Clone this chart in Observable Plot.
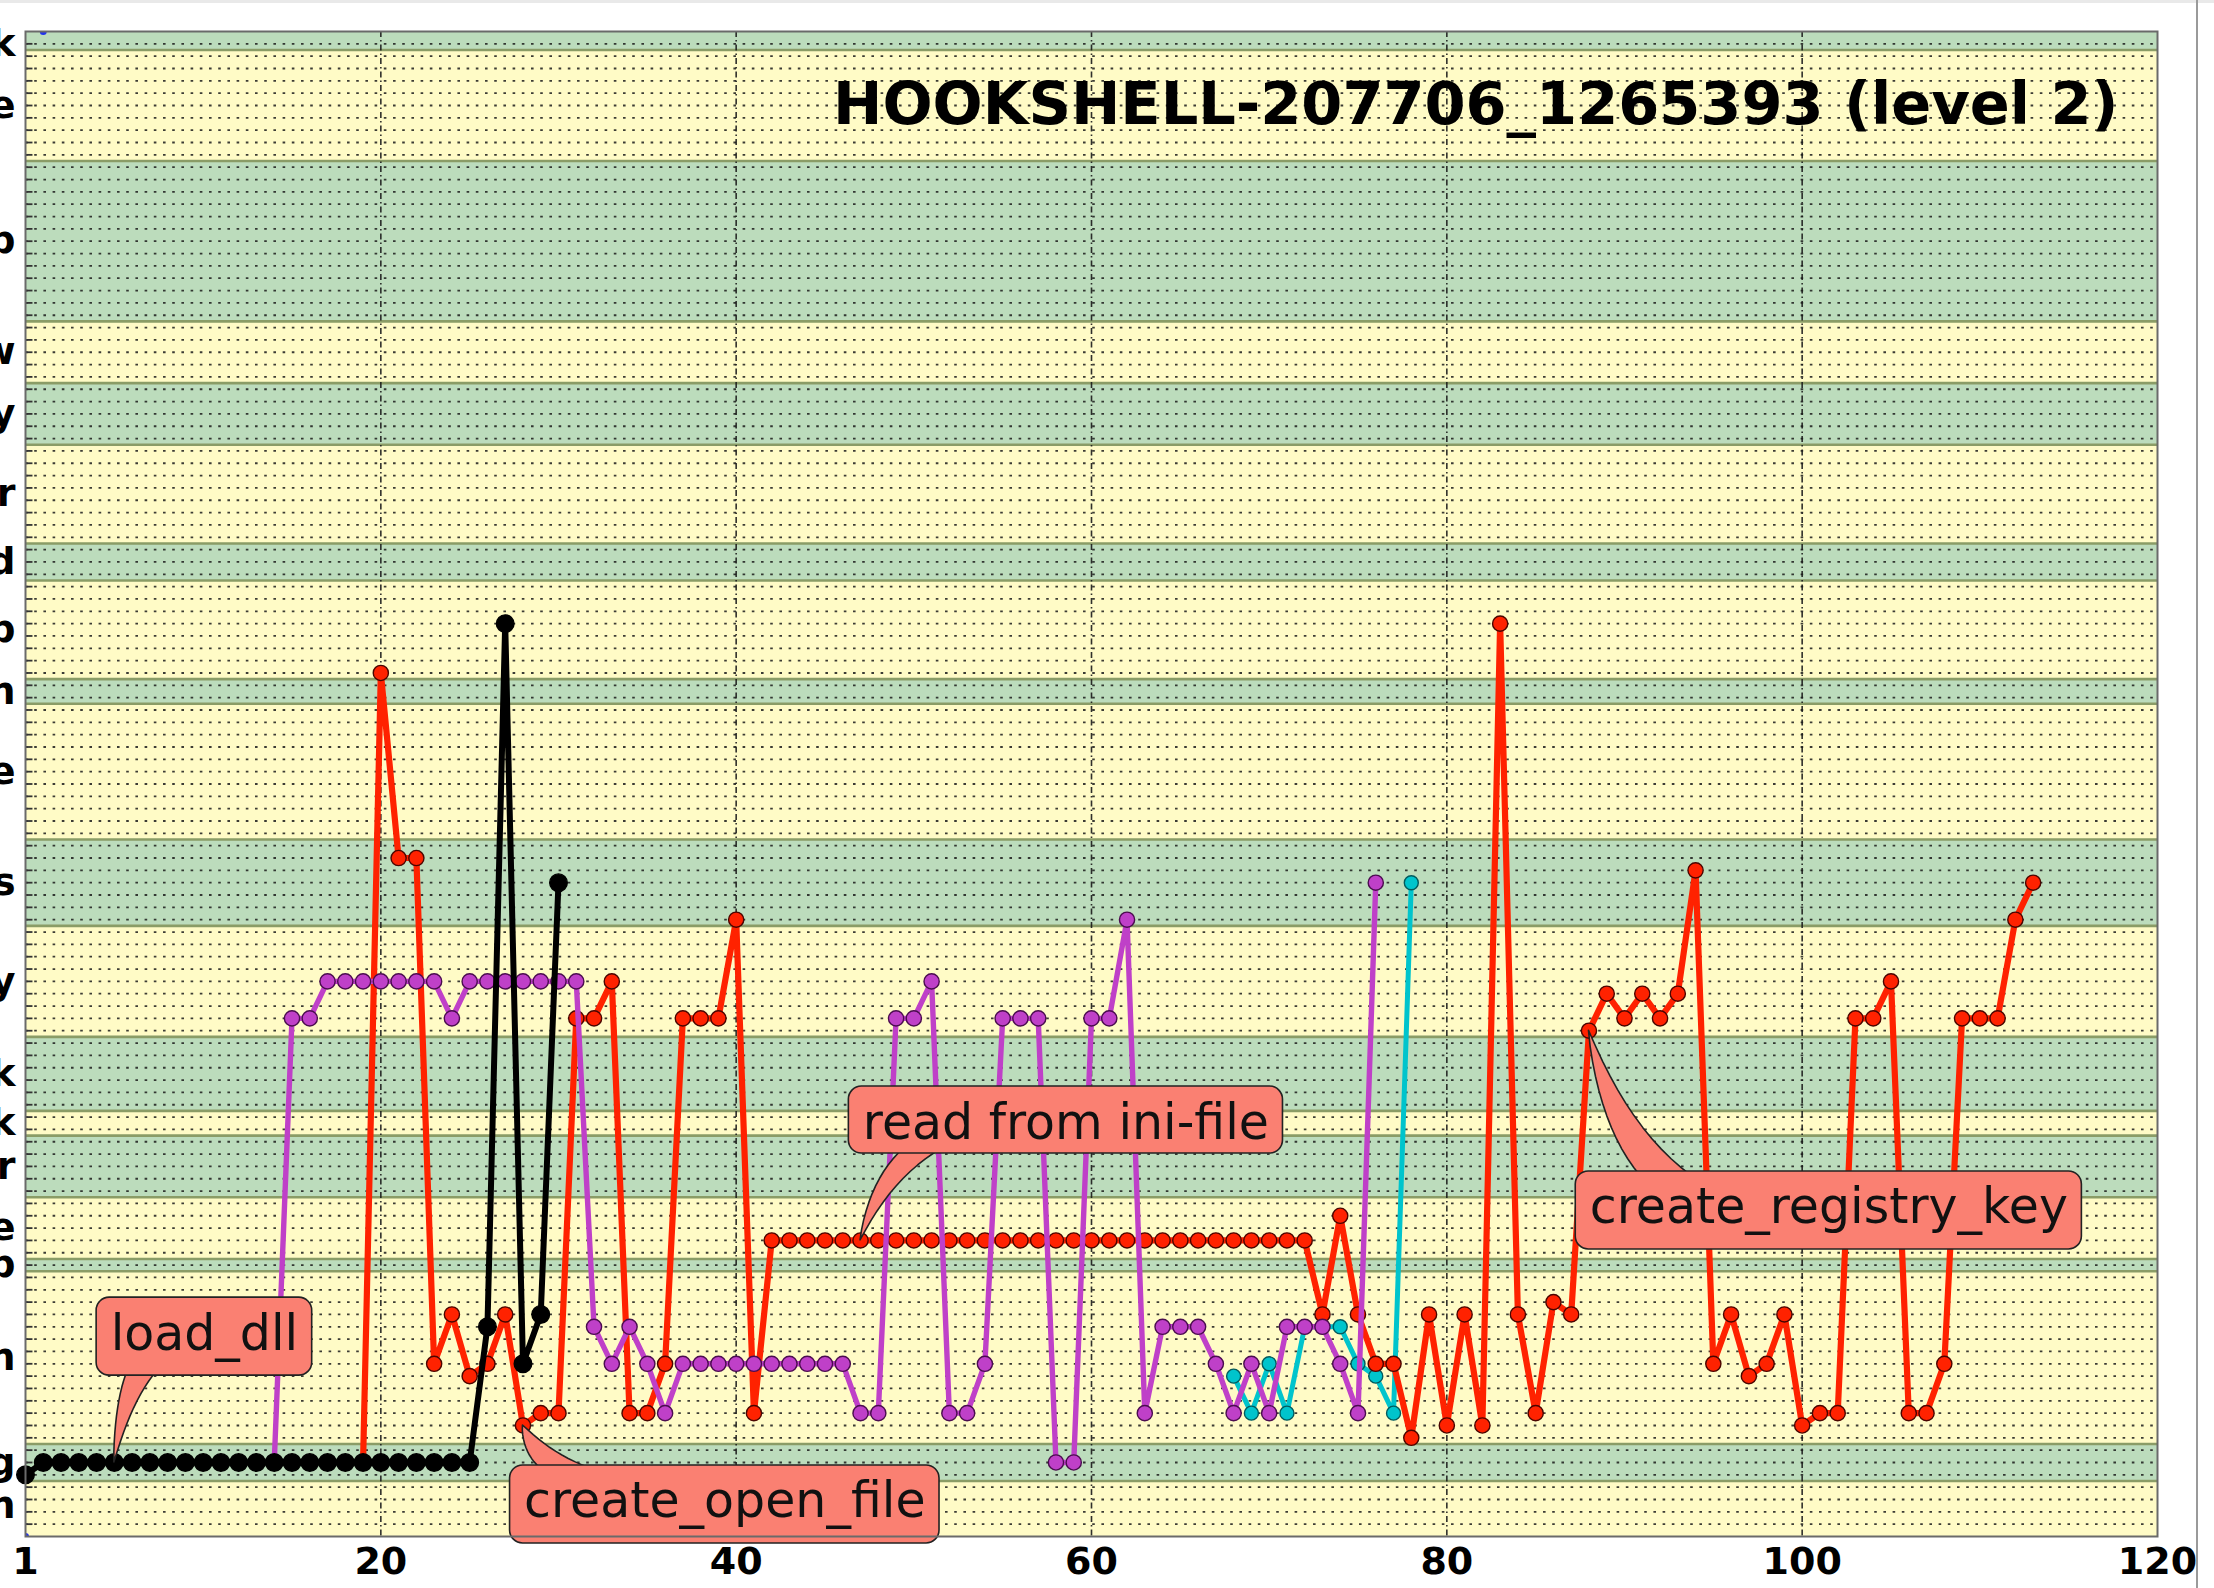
<!DOCTYPE html>
<html><head><meta charset="utf-8">
<script src="https://cdn.jsdelivr.net/npm/d3@7"></script>
<script src="https://cdn.jsdelivr.net/npm/@observablehq/plot@0.6"></script>
<style>
html,body{margin:0;padding:0;background:#fff;}
#wrap{position:relative;width:2214px;height:1588px;overflow:hidden;background:#fff;}
#topstrip{position:absolute;left:0;top:0;width:2214px;height:3px;background:#e9e9e9;}
#rightline{position:absolute;left:2196px;top:0;width:2px;height:1588px;background:#9a9a9a;}
</style></head><body><div id="wrap"><div id="topstrip"></div><div id="rightline"></div></div>
<script>
// ---------- data ----------
const xDomain = [0, 120];
const yDomain = [-1, 121];
const xTicks = [0, 20, 40, 60, 80, 100, 120];
const xTickLabels = ["1", "20", "40", "60", "80", "100", "120"];
const xGrid = [20, 40, 60, 80, 100];

// category bands, from the bottom (number of rows in each band)
const bandSizes  = [4, 3, 14, 1, 5, 5, 2, 6, 9, 7, 11, 2, 8, 3, 8, 5, 5, 13, 9, 1];
const bandLabels = ["n","g","n","p","e","r","k","k","y","s","e","n","p","d","r","y","w","p","e","k"];

const blackStart = 0;
const blackRows = [4, 5,5,5,5,5, 5,5,5,5,5, 5,5,5,5,5, 5,5,5,5,5, 5,5,5,5,5, 16,73,13,17,52];

const purpleStart = 14;
const purpleRows = [5, 41,41, 44,44,44,44,44,44,44, 41, 44,44,44,44,44,44,44,
  16,13,16,13,9, 13,13,13,13,13,13,13,13,13,13, 9,9, 41,41,44, 9,9,13, 41,41,41, 5,5,
  41,41,49, 9, 16,16,16, 13,9,13,9, 16,16,16, 13,9,52];

const cyanStart = 68;
const cyanRows = [12, 9, 13, 9, 16, 16, 16, 13, 12, 9, 52];

const redStart = 19;
const redRows = [5, 69, 54, 54, 13, 17, 12, 13, 17, 8, 9, 9, 41, 41, 44, 9, 9, 13, 41, 41, 41, 49, 9,
  23,23,23,23,23,23,23,23,23,23, 23,23,23,23,23,23,23,23,23,23, 23,23,23,23,23,23,23,23,23,23, 23,
  17, 25, 17, 13, 13, 7, 17, 8, 17, 8, 73, 17, 9, 18, 17, 40, 43, 41, 43, 41, 43, 53,
  13, 17, 12, 13, 17, 8, 9, 9, 41, 41, 44, 9, 9, 13, 41, 41, 41, 49, 52];

const blueX = [0, 1];
const blueRows = [-1, 121];

const title = "HOOKSHELL-207706_1265393 (level 2)";

const annotations = [
  {label: "load_dll",            px: 5,  py: 5,  tx: 10.07,  ty: 15.2,  base: [0.145, 0.283]},
  {label: "create_open_file",    px: 28, py: 8,  tx: 39.36,  ty: 1.6,   base: [0.077, 0.200]},
  {label: "read from ini-file",  px: 47, py: 23, tx: 58.56,  ty: 32.76, base: [0.127, 0.215]},
  {label: "create_registry_key", px: 88, py: 40, tx: 101.5,  ty: 25.43, base: [0.129, 0.230]}
];

// ---------- layout ----------
const W = 2214, H = 1588, mL = 25, mR = 57, mT = 31, mB = 52;
const yellow = "#fffbc6", green = "#bcdcbc", salmon = "#fa8072";

const toPts = (start, rows) => rows.map((r, i) => ({x: start + i, y: r}));
const black = toPts(blackStart, blackRows);
const purple = toPts(purpleStart, purpleRows);
const cyan = toPts(cyanStart, cyanRows);
const red = toPts(redStart, redRows);
const blue = blueX.map((x, i) => ({x, y: blueRows[i]}));

// bands
const bands = [];
let s = 0;
bandSizes.forEach((n, i) => {
  bands.push({
    y1: i === 0 ? yDomain[0] : s - 0.5,
    y2: i === bandSizes.length - 1 ? yDomain[1] : s + n - 0.5,
    center: s + (n - 1) / 2,
    label: bandLabels[i],
    fill: i % 2 === 0 ? yellow : green
  });
  s += n;
});
const rows = d3.range(0, s);
const boundaries = bands.slice(1).map(b => b.y1);
const centerLabel = new Map(bands.map(b => [b.center, b.label]));

// scales for annotation geometry
const xs = Plot.scale({x: {domain: xDomain, range: [mL, W - mR]}});
const ys = Plot.scale({y: {domain: yDomain, range: [H - mB, mT]}});
const ctx = document.createElement("canvas").getContext("2d");
const fs = 49, padX = 14, padY = 14;
ctx.font = `${fs}px "DejaVu Sans"`;

const annMarks = [];
annotations.forEach(a => {
  const m = ctx.measureText(a.label);
  const asc = m.actualBoundingBoxAscent, desc = m.actualBoundingBoxDescent;
  const bw = m.width + 2 * padX, bh = asc + desc + 2 * padY;
  const cx = xs.apply(a.tx), cy = ys.apply(a.ty);
  const box = {x1: xs.invert(cx - bw / 2), x2: xs.invert(cx + bw / 2),
               y1: ys.invert(cy + bh / 2), y2: ys.invert(cy - bh / 2)};
  const tipX = xs.apply(a.px), tipY = ys.apply(a.py);
  const edge = tipY < cy ? cy - bh / 2 + 5 : cy + bh / 2 - 5;
  const b1 = cx - bw / 2 + a.base[0] * bw, b2 = cx - bw / 2 + a.base[1] * bw;
  const bc = (b1 + b2) / 2, hw = (b2 - b1) / 2;
  // slightly curved wedge: quadratic centre line from the tip to the base centre
  const mx = (tipX + bc) / 2, my = (tipY + edge) / 2;
  const qx = mx + 0.35 * (tipX - mx), qy = my + 0.35 * (edge - my);
  const wedge = d3.range(0, 13).map(k => {
    const t = k / 12;
    const px = (1 - t) * (1 - t) * tipX + 2 * (1 - t) * t * qx + t * t * bc;
    const py = (1 - t) * (1 - t) * tipY + 2 * (1 - t) * t * qy + t * t * edge;
    const w = hw * Math.pow(t, 0.9);
    return {x1: xs.invert(px - w), y1: ys.invert(py), x2: xs.invert(px + w), y2: ys.invert(py)};
  });
  annMarks.push(
    Plot.area(wedge, {x1: "x1", y1: "y1", x2: "x2", y2: "y2", fill: salmon, stroke: "#222", strokeWidth: 1.6, curve: "linear"}),
    Plot.rect([box], {x1: "x1", x2: "x2", y1: "y1", y2: "y2", rx: 13, ry: 13, fill: salmon, stroke: "#222", strokeWidth: 1.6}),
    Plot.text([a], {x: "tx", y: "ty", text: "label", fontSize: fs, fontWeight: "normal", fill: "#111",
      textAnchor: "middle", dy: (asc - desc) / 2 - 0.32 * fs})
  );
});

function series(data, color, edge, width, r) {
  return [
    Plot.line(data, {x: "x", y: "y", stroke: color, strokeWidth: width, strokeLinejoin: "miter", strokeLinecap: "butt"}),
    Plot.dot(data, {x: "x", y: "y", r, fill: color, stroke: edge, strokeWidth: 1.4})
  ];
}

const chart = Plot.plot({
  width: W, height: H,
  marginLeft: mL, marginRight: mR, marginTop: mT, marginBottom: mB,
  style: {fontFamily: '"DejaVu Sans", sans-serif', fontSize: "38px", fontWeight: "bold", background: "white", maxWidth: "none", color: "black"},
  x: {domain: xDomain, ticks: xTicks, tickFormat: d => xTickLabels[xTicks.indexOf(d)], tickSize: 0, tickPadding: 11, label: null},
  y: {domain: yDomain, ticks: bands.map(b => b.center), tickFormat: d => centerLabel.get(d), tickSize: 0, tickPadding: 10, label: null},
  marks: [
    Plot.rect(bands, {y1: "y1", y2: "y2", fill: "fill"}),
    Plot.ruleY(boundaries, {stroke: "#8a9c66", strokeWidth: 2.6}),
    Plot.ruleY(rows, {stroke: "#1a1a1a", strokeWidth: 1.8, strokeDasharray: "2.6,6.6", strokeOpacity: 0.85}),
    Plot.ruleY(rows, {x1: () => xDomain[0], x2: () => xDomain[0] + 0.42, stroke: "#333", strokeWidth: 1.8}),
    Plot.ruleX(xGrid, {stroke: "#1a1a1a", strokeWidth: 1.6, strokeDasharray: "6,3,1.5,3", strokeOpacity: 0.9}),
    Plot.dot(blue, {x: "x", y: "y", r: 3.5, fill: "#2233ee", clip: true}),
    Plot.text([title], {frameAnchor: "top-right", text: d => d, dx: -39, dy: 51, fontSize: 59, fontWeight: "bold",
      textAnchor: "end", lineAnchor: "top", fill: "black"}),
    ...series(cyan, "#00c4cc", "#035a5c", 5, 7),
    ...series(red, "#ff2200", "#4a0500", 6.2, 7.6),
    ...series(purple, "#bf40c8", "#4a0d4e", 5.4, 7.6),
    ...series(black, "#000000", "#000000", 6, 8.8),
    ...annMarks,
    Plot.frame({stroke: "#6a6a6a", strokeWidth: 2})
  ]
});
document.getElementById("wrap").prepend(chart);
</script>
</body></html>
